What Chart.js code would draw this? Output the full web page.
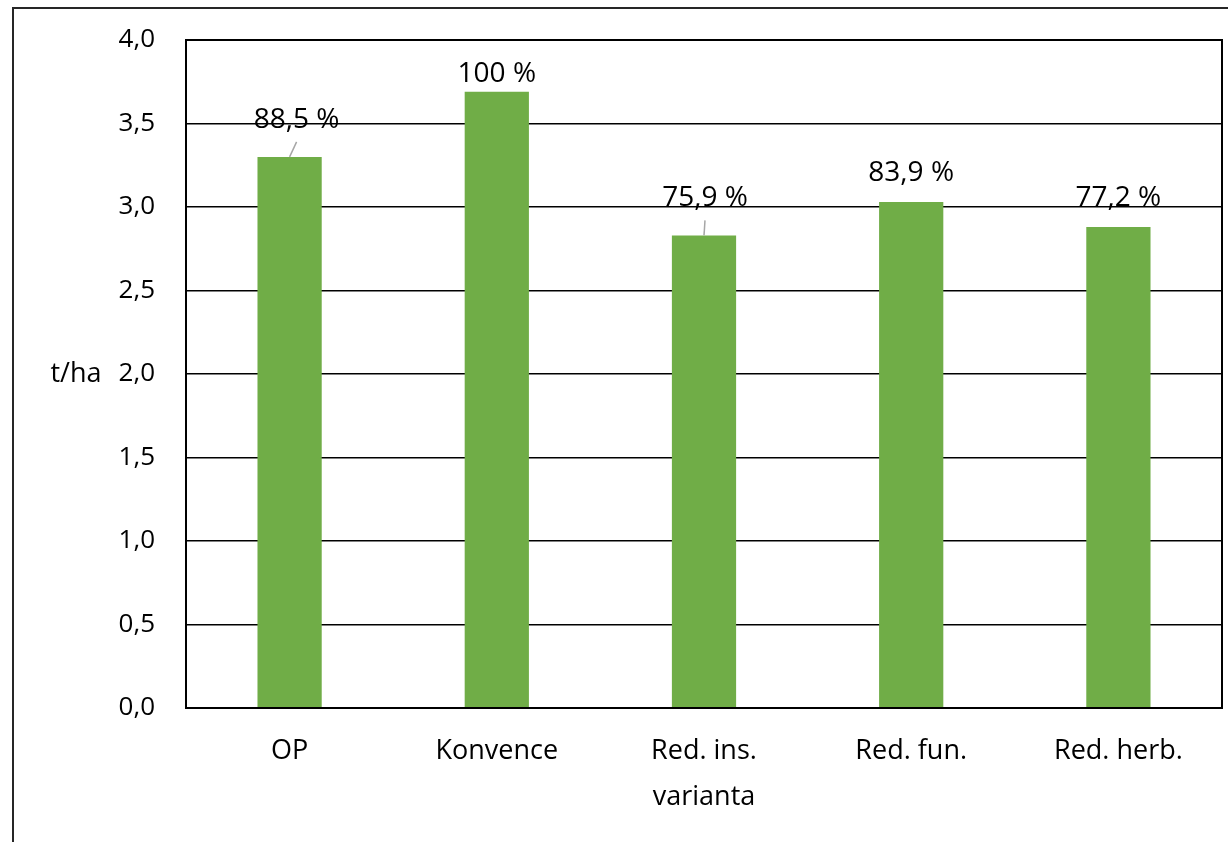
<!DOCTYPE html>
<html>
<head>
<meta charset="utf-8">
<script src="https://cdn.jsdelivr.net/npm/chart.js@4.4.1/dist/chart.umd.min.js"></script>
<style>
  html, body { margin: 0; padding: 0; background: #fff; }
  #wrap { width: 1228px; height: 842px; position: relative; }
</style>
</head>
<body>
<div id="wrap"><canvas id="yieldChart"></canvas></div>
<script>
// yield per variant (t/ha) and relative yield vs. conventional
const variants = ['OP', 'Konvence', 'Red. ins.', 'Red. fun.', 'Red. herb.'];
const yields = [3.30, 3.69, 2.83, 3.03, 2.88];
const percentLabels = ['88,5 %', '100 %', '75,9 %', '83,9 %', '77,2 %'];
const yTicks = [0, 0.5, 1, 1.5, 2, 2.5, 3, 3.5, 4];

const barGreen = '#70AD47';
const fontFamily = '"Open Sans", "Noto Sans", sans-serif';

// label placement above each bar: [dx, baseline dy, leader line?]
const labelPlacement = [
  [7, -29, true],
  [0, -10, false],
  [1, -29, true],
  [0, -21, false],
  [0, -21, false]
];

const frame = {
  id: 'frame',
  beforeDraw(chart) {
    const ctx = chart.ctx;
    ctx.save();
    ctx.strokeStyle = '#262626';
    ctx.lineWidth = 2;
    ctx.strokeRect(13, 8, chart.width + 20, chart.height + 20);
    ctx.restore();
  },
  afterDraw(chart) {
    const ctx = chart.ctx;
    const a = chart.chartArea;
    ctx.save();
    ctx.strokeStyle = '#000';
    ctx.lineWidth = 2;
    ctx.strokeRect(a.left, a.top, a.right - a.left, a.bottom - a.top);
    // y axis caption, horizontal, level with the 2,0 tick
    const y = chart.scales.y.getPixelForValue(2);
    ctx.fillStyle = '#000';
    ctx.font = '27px ' + fontFamily;
    ctx.textAlign = 'center';
    ctx.textBaseline = 'middle';
    ctx.fillText('t/ha', 76, y);
    ctx.restore();
  }
};

const barLabels = {
  id: 'barLabels',
  afterDatasetsDraw(chart) {
    const ctx = chart.ctx;
    const meta = chart.getDatasetMeta(0);
    ctx.save();
    ctx.font = '28px ' + fontFamily;
    ctx.textAlign = 'center';
    ctx.textBaseline = 'alphabetic';
    meta.data.forEach((bar, i) => {
      const [dx, dy, leader] = labelPlacement[i];
      if (leader) {
        ctx.strokeStyle = '#A6A6A6';
        ctx.lineWidth = 1.5;
        ctx.beginPath();
        ctx.moveTo(bar.x, bar.y);
        ctx.lineTo(bar.x + dx, bar.y + dy + 14);
        ctx.stroke();
      }
      ctx.fillStyle = '#000';
      ctx.fillText(percentLabels[i], bar.x + dx, bar.y + dy);
    });
    ctx.restore();
  }
};

new Chart(document.getElementById('yieldChart'), {
  type: 'bar',
  data: {
    labels: variants,
    datasets: [{
      data: yields,
      backgroundColor: barGreen,
      borderWidth: 0,
      barPercentage: 0.31,
      categoryPercentage: 1
    }]
  },
  options: {
    responsive: true,
    maintainAspectRatio: false,
    animation: false,
    layout: { padding: { top: 40, right: 6, left: 0, bottom: 0 } },
    plugins: {
      legend: { display: false },
      tooltip: { enabled: false }
    },
    scales: {
      x: {
        grid: { display: false, drawTicks: false },
        border: { display: true, color: '#000', width: 2 },
        ticks: { color: '#000', padding: 27, font: { family: fontFamily, size: 27 } },
        title: {
          display: true,
          text: 'varianta',
          color: '#000',
          padding: { top: 0, bottom: 28 },
          font: { family: fontFamily, size: 27 }
        },
        afterFit(scale) {
          scale.height = 134;
          scale.paddingLeft = 0;
          scale.paddingRight = 0;
        }
      },
      y: {
        min: 0,
        max: 4,
        afterBuildTicks(scale) { scale.ticks = yTicks.map(v => ({ value: v })); },
        grid: { color: '#000', lineWidth: 1.5, drawTicks: false },
        border: { display: true, color: '#000', width: 2 },
        ticks: {
          color: '#000',
          padding: 31,
          font: { family: fontFamily, size: 26 },
          callback: v => v.toFixed(1).replace('.', ',')
        },
        afterFit(scale) {
          scale.width = 186;
          scale.paddingTop = 0;
          scale.paddingBottom = 0;
        }
      }
    }
  },
  plugins: [frame, barLabels]
});
</script>
</body>
</html>
